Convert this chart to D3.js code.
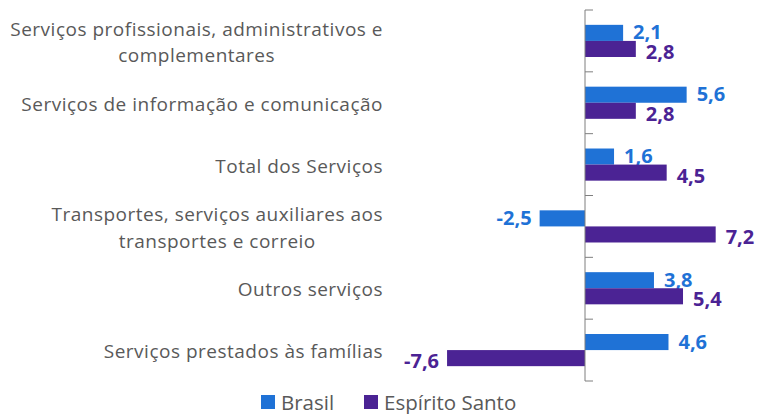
<!DOCTYPE html>
<html>
<head>
<meta charset="utf-8">
<script src="https://cdn.jsdelivr.net/npm/d3@7"></script>
<style>
  body { margin: 0; background: #fff; }
  svg text { font-family: "Open Sans", "Noto Sans", sans-serif; }
</style>
</head>
<body>
<svg id="chart" width="761" height="414"></svg>
<script>
// data, top to bottom
var categories = [
  ["Serviços profissionais, administrativos e", "complementares"],
  ["Serviços de informação e comunicação"],
  ["Total dos Serviços"],
  ["Transportes, serviços auxiliares aos", "transportes e correio"],
  ["Outros serviços"],
  ["Serviços prestados às famílias"]
];
var brasil = [2.1, 5.6, 1.6, -2.5, 3.8, 4.6];
var espiritoSanto = [2.8, 2.8, 4.5, 7.2, 5.4, -7.6];
var seriesNames = ["Brasil", "Espírito Santo"];
var colors = ["#1f72d6", "#4b2394"];

var svg = d3.select("#chart");

var x = d3.scaleLinear()
    .domain([-8, 8])
    .range([585 - 8 * 18.15, 585 + 8 * 18.15]);

var y = d3.scaleBand()
    .domain(d3.range(categories.length))
    .range([10, 381])
    .paddingInner(0.48)
    .paddingOuter(0.24);

var bh = y.bandwidth() / 2;
var step = y.step();

// bars
var series = [brasil, espiritoSanto];
var labelShift = [-1, 2.5]; // labels nudged apart a little, as in the original
series.forEach(function(vals, s) {
  var g = svg.append("g");
  g.selectAll("rect")
    .data(vals)
    .enter()
    .append("rect")
    .attr("x", d => x(Math.min(0, d)))
    .attr("width", d => Math.abs(x(d) - x(0)))
    .attr("y", (d, i) => y(i) + s * bh)
    .attr("height", bh)
    .attr("fill", colors[s]);

  g.selectAll("text")
    .data(vals)
    .enter()
    .append("text")
    .attr("x", d => d < 0 ? x(d) - 8 : x(d) + 10)
    .attr("y", (d, i) => y(i) + s * bh + bh / 2 + labelShift[s])
    .attr("dominant-baseline", "central")
    .attr("text-anchor", d => d < 0 ? "end" : "start")
    .attr("font-size", "20px")
    .attr("font-weight", "bold")
    .attr("fill", colors[s])
    .text(d => d3.format(".1f")(d).replace(".", ",").replace("−", "-"));
});

// vertical axis at zero with ticks to the right
var axisG = svg.append("g");
axisG.append("line")
  .attr("x1", x(0)).attr("x2", x(0))
  .attr("y1", 10).attr("y2", 381)
  .attr("stroke", "#7f7f7f").attr("stroke-width", 1);
axisG.selectAll(".tick")
  .data(d3.range(categories.length + 1))
  .enter()
  .append("line")
  .attr("x1", x(0)).attr("x2", x(0) + 8)
  .attr("y1", i => 10 + i * step)
  .attr("y2", i => 10 + i * step)
  .attr("stroke", "#7f7f7f");

// category labels, lines centred inside a block right-aligned at 383
var labelRight = 383;
var lineH = 26.5;
categories.forEach(function(lines, i) {
  var cy = y(i) + y.bandwidth() / 2 + 1;
  var t = svg.append("text")
    .attr("font-size", "19px")
    .attr("letter-spacing", "0.5px")
    .attr("fill", "#595959")
    .attr("text-anchor", "middle");
  var spans = lines.map(function(l, k) {
    return t.append("tspan")
      .attr("y", cy + (k - (lines.length - 1) / 2) * lineH)
      .attr("dominant-baseline", "central")
      .text(l);
  });
  var maxW = d3.max(spans, sp => sp.node().getComputedTextLength());
  spans.forEach(sp => sp.attr("x", labelRight - maxW / 2));
});

// legend
var legend = svg.append("g");
var legendX = [261, 364];
seriesNames.forEach(function(name, s) {
  legend.append("rect")
    .attr("x", legendX[s]).attr("y", 395)
    .attr("width", 14).attr("height", 14)
    .attr("fill", colors[s]);
  legend.append("text")
    .attr("x", legendX[s] + 20)
    .attr("y", 401.5)
    .attr("dominant-baseline", "central")
    .attr("font-size", "20.5px")
    .attr("fill", "#595959")
    .text(name);
});
</script>
</body>
</html>
